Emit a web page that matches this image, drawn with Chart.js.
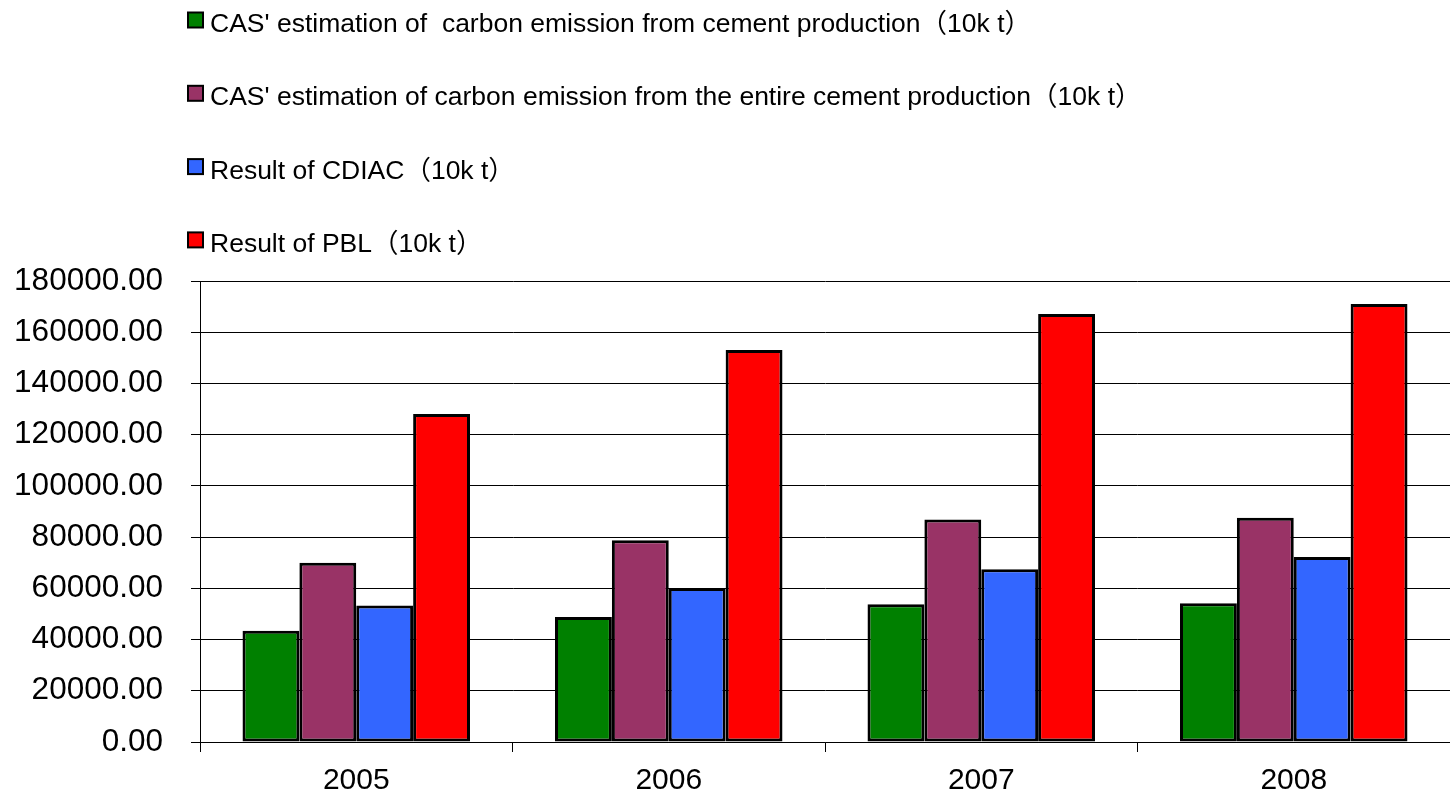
<!DOCTYPE html>
<html>
<head>
<meta charset="utf-8">
<script src="https://cdn.jsdelivr.net/npm/chart.js@4/dist/chart.umd.min.js"></script>
<style>
  html, body { margin: 0; padding: 0; background: #fff; }
  #wrap { width: 1450px; height: 796px; position: relative; }
</style>
</head>
<body>
<div id="wrap"><canvas id="c" width="1450" height="796"></canvas></div>
<script>
// Years on the category axis
const years = ['2005', '2006', '2007', '2008'];

// Emission estimates, unit: 10k t
const casCement = [43400, 48800, 53800, 54200];
const casEntireCement = [70000, 78800, 86900, 87600];
const cdiacResult = [53300, 60100, 67500, 72200];
const pblResult = [128100, 153100, 167100, 171000];

// Series names
const seriesNames = [
  "CAS' estimation of  carbon emission from cement production\uFF0810k t\uFF09",
  "CAS' estimation of carbon emission from the entire cement production\uFF0810k t\uFF09",
  "Result of CDIAC\uFF0810k t\uFF09",
  "Result of PBL\uFF0810k t\uFF09"
];

// Value axis settings
const yMin = 0;
const yMax = 180000;
const yStep = 20000;

const FONT = '"Liberation Sans", Arial, "Noto Sans CJK SC", sans-serif';

// Stacked legend drawn above the plot, one entry per row
const stackedLegend = {
  id: 'stackedLegend',
  afterDraw(chart) {
    const ctx = chart.ctx;
    ctx.save();
    chart.data.datasets.forEach((ds, i) => {
      const rowTop = 12.5 + i * 73.3;
      ctx.fillStyle = ds.backgroundColor;
      ctx.fillRect(188, rowTop, 15, 15);
      ctx.lineWidth = 2;
      ctx.strokeStyle = '#000';
      ctx.strokeRect(188, rowTop, 15, 15);
      ctx.fillStyle = '#000';
      ctx.font = '26.5px ' + FONT;
      ctx.textBaseline = 'alphabetic';
      ctx.textAlign = 'left';
      ctx.fillText(ds.label, 210, rowTop + 19.5);
    });
    ctx.restore();
  }
};

const seriesValues = [casCement, casEntireCement, cdiacResult, pblResult];
const seriesColors = ['#008000', '#993366', '#3366FF', '#FF0000'];

new Chart(document.getElementById('c'), {
  type: 'bar',
  data: {
    labels: years,
    datasets: seriesValues.map((vals, i) => ({
      label: seriesNames[i],
      data: vals,
      backgroundColor: seriesColors[i],
      borderColor: '#000',
      borderWidth: 3,
      borderSkipped: false,
      categoryPercentage: 0.728,
      barPercentage: 1.0
    }))
  },
  options: {
    responsive: false,
    animation: false,
    events: [],
    layout: { padding: { top: 281, right: 0, bottom: 0, left: 0 } },
    plugins: {
      legend: { display: false },
      title: { display: false },
      tooltip: { enabled: false }
    },
    scales: {
      x: {
        offset: true,
        grid: {
          offset: true,
          drawOnChartArea: false,
          drawTicks: true,
          tickLength: 10,
          color: '#000',
          lineWidth: 1
        },
        border: { display: true, color: '#000', width: 1 },
        ticks: {
          color: '#000',
          padding: 11,
          font: { family: FONT, size: 30 }
        },
        afterFit(scale) { scale.height = 54; }
      },
      y: {
        min: yMin,
        max: yMax,
        grid: {
          color: '#000',
          lineWidth: 1,
          drawTicks: true,
          tickLength: 9
        },
        border: { display: true, color: '#000', width: 1 },
        ticks: {
          stepSize: yStep,
          color: '#000',
          padding: 28,
          font: { family: FONT, size: 31.5 },
          callback: (v) => Number(v).toFixed(2)
        },
        afterFit(scale) { scale.width = 200; }
      }
    }
  },
  plugins: [stackedLegend]
});
</script>
</body>
</html>
